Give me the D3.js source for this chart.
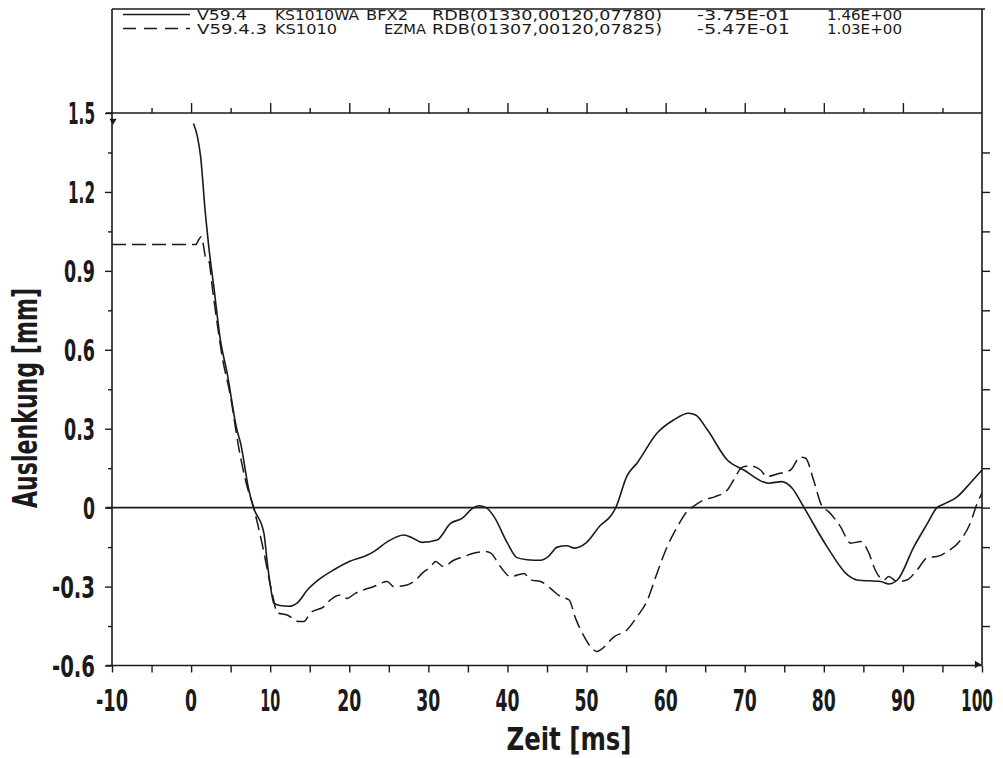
<!DOCTYPE html>
<html><head><meta charset="utf-8">
<script src="https://cdn.jsdelivr.net/npm/d3@7"></script>
<style>body{margin:0;background:#fff}svg{display:block}</style>
</head><body>
<svg id="c" width="1003" height="758"></svg>
<script>
// ---- data ----
const solidT = [0.3,0.8,1.2,1.8,2.24,2.87,3.7,4.56,5.8,6.25,7.3,7.9,9.2,9.6,10.04,10.46,11.2,12.4,13.5,14.7,16.3,18.0,20.0,22.3,23.1,24.8,26.9,28.0,29.2,31.1,32.8,34.3,35.5,36.4,37.3,38.3,40.0,41.2,42.5,44.2,45.2,46.3,47.5,48.5,49.9,51.8,53.0,53.7,55.1,56.4,58.9,61.0,62.9,63.8,65.3,67.8,69.9,73.0,74.7,76.0,77.5,80.4,83.0,84.2,87.2,88.2,89.3,91.4,93.1,94.3,95.2,96.9,98.5,100];
const solidY = [1.46,1.41,1.335,1.12,0.99,0.84,0.638,0.511,0.295,0.246,0.067,0.0,-0.096,-0.2,-0.30,-0.363,-0.372,-0.375,-0.36,-0.313,-0.27,-0.237,-0.205,-0.18,-0.167,-0.13,-0.104,-0.115,-0.132,-0.123,-0.06,-0.04,-0.005,0.007,0.0,-0.034,-0.135,-0.19,-0.198,-0.2,-0.185,-0.15,-0.145,-0.154,-0.135,-0.066,-0.034,0.0,0.12,0.17,0.283,0.333,0.359,0.352,0.295,0.181,0.143,0.093,0.099,0.074,0.0,-0.148,-0.256,-0.275,-0.281,-0.29,-0.275,-0.148,-0.06,0.0,0.014,0.042,0.093,0.143];
const dashT = [-10,0.6,1.0,1.3,1.6,1.8,2.24,2.67,3.3,3.93,5.0,6.0,7.0,7.9,9.0,10.25,10.9,12.15,13.6,14.25,15.1,16.8,17.6,18.9,19.7,20.8,21.8,23.1,24.8,25.6,27.3,28.4,29.2,30.3,30.9,31.9,33.2,34.5,35.7,37.2,37.9,39.1,40.4,42.1,42.9,44.2,45.4,46.7,47.8,48.6,49.7,50.7,51.3,51.8,53.5,55.1,56.4,57.7,58.9,60.2,61.5,62.7,63.6,64.8,66.3,67.8,68.6,69.7,70.7,72.0,72.8,74.1,75.8,77.0,77.7,78.7,79.8,80.6,82.1,83.4,84.7,85.7,86.5,87.6,88.2,89.3,90.5,91.8,93.1,94.3,95.6,97.3,98.5,99.4,100];
const dashY = [1.0,1.0,1.02,1.03,0.99,0.955,0.94,0.84,0.70,0.574,0.42,0.232,0.09,0.0,-0.14,-0.325,-0.40,-0.408,-0.433,-0.433,-0.40,-0.376,-0.351,-0.332,-0.345,-0.325,-0.313,-0.30,-0.281,-0.30,-0.294,-0.275,-0.25,-0.224,-0.205,-0.224,-0.2,-0.186,-0.173,-0.167,-0.173,-0.224,-0.262,-0.25,-0.275,-0.281,-0.306,-0.338,-0.351,-0.42,-0.49,-0.535,-0.547,-0.54,-0.49,-0.465,-0.414,-0.351,-0.25,-0.148,-0.072,-0.015,0.007,0.029,0.042,0.067,0.105,0.154,0.159,0.143,0.118,0.128,0.143,0.192,0.188,0.105,0.004,-0.015,-0.072,-0.135,-0.129,-0.173,-0.237,-0.275,-0.262,-0.281,-0.275,-0.237,-0.19,-0.186,-0.167,-0.123,-0.06,0.017,0.055];
const xTickValues = [-10,0,10,20,30,40,50,60,70,80,90,100];
const xTickLabels = ["-10","0","10","20","30","40","50","60","70","80","90","100"];
const yTickValues = [-0.6,-0.3,0,0.3,0.6,0.9,1.2,1.5];
const yTickLabels = ["-0.6","-0.3","0","0.3","0.6","0.9","1.2","1.5"];
const legendRow1 = ["V59.4","KS1010WA","BFX2","RDB(01330,00120,07780)","-3.75E-01","1.46E+00"];
const legendRow2 = ["V59.4.3","KS1010","EZMA","RDB(01307,00120,07825)","-5.47E-01","1.03E+00"];
const xTitle = "Zeit [ms]";
const yTitle = "Auslenkung [mm]";

// ---- layout ----
const svg = d3.select("#c");
const x = d3.scaleLinear().domain([-10,100]).range([112,982]);
const y = d3.scaleLinear().domain([-0.6,1.5]).range([665.5,113]);
const ink = "#1a1a1a";
const bigFont = "'Liberation Sans Narrow','DejaVu Sans Condensed','Roboto Condensed','Liberation Sans',sans-serif";
const frameTop = 9;

function bigWidth(s){let w=0;for(const c of s){w+= c==='1'?8:c==='.'?7:c==='-'?12:12;}return w;}

// frame lines
const g = svg.append("g").attr("stroke",ink).attr("fill","none").attr("stroke-width",1.6);
g.append("line").attr("x1",x(-10)).attr("x2",x(-10)).attr("y1",frameTop).attr("y2",y(-0.6));
g.append("line").attr("x1",x(100)).attr("x2",x(100)).attr("y1",frameTop).attr("y2",y(-0.6));
g.append("line").attr("x1",x(-10)).attr("x2",x(100)+3).attr("y1",frameTop).attr("y2",frameTop);
[1.5,0,-0.6].forEach(v=>{
  g.append("line").attr("x1",x(-10)-6).attr("x2",x(100)).attr("y1",y(v)).attr("y2",y(v));
});

// axes ticks via d3 axes
const range = (a,b,s)=>d3.range(a,b+s/2,s);
function styleAxis(sel){sel.select(".domain").remove();sel.selectAll("line").attr("stroke",ink).attr("stroke-width",1.4);sel.selectAll("text").remove();}
svg.append("g").attr("transform",`translate(${x(-10)},0)`)
  .call(d3.axisLeft(y).tickValues(range(-0.45,1.35,0.3)).tickSize(4).tickFormat("")).call(styleAxis);
svg.append("g").attr("transform",`translate(${x(-10)},0)`)
  .call(d3.axisLeft(y).tickValues(yTickValues).tickSize(7).tickFormat("")).call(styleAxis);
svg.append("g").attr("transform",`translate(${x(100)},0)`)
  .call(d3.axisRight(y).tickValues(range(-0.45,1.35,0.15)).tickSize(8).tickFormat("")).call(styleAxis);
svg.append("g").attr("transform",`translate(0,${y(-0.6)})`)
  .call(d3.axisBottom(x).tickValues(range(-10,100,5)).tickSize(7).tickFormat("")).call(styleAxis);
svg.append("g").attr("transform",`translate(0,${y(1.5)})`)
  .call(d3.axisTop(x).tickValues(range(-5,95,10)).tickSize(5).tickFormat("")).call(styleAxis);
svg.append("g").attr("transform",`translate(0,${y(1.5)})`)
  .call(d3.axisTop(x).tickValues(range(0,90,10)).tickSize(10).tickFormat("")).call(styleAxis);

// tick labels
const yl = svg.append("g").attr("font-family",bigFont).attr("font-weight","bold").attr("font-size",31).attr("fill",ink);
yTickValues.forEach((v,i)=>{
  yl.append("text").attr("x",95).attr("y",y(v)+11).attr("text-anchor","end")
    .attr("textLength",bigWidth(yTickLabels[i])).attr("lengthAdjust","spacingAndGlyphs").text(yTickLabels[i]);
});
const xl = svg.append("g").attr("font-family",bigFont).attr("font-weight","bold").attr("font-size",31).attr("fill",ink);
xTickValues.forEach((v,i)=>{
  const w = bigWidth(xTickLabels[i]);
  const t = xl.append("text").attr("text-anchor","middle").text(xTickLabels[i]);
  const natural = t.node().getComputedTextLength() || w;
  const k = w / natural;
  const cx = Math.min(x(v), 993 - w/2);
  t.attr("transform",`translate(${cx},711) scale(${k},1)`);
});

// titles
svg.append("text").attr("x",569).attr("y",750).attr("text-anchor","middle")
  .attr("font-family",bigFont).attr("font-weight","bold").attr("font-size",32).attr("fill",ink)
  .attr("textLength",125).attr("lengthAdjust","spacingAndGlyphs").text(xTitle);
svg.append("text").attr("transform","translate(37,398) rotate(-90)").attr("text-anchor","middle")
  .attr("font-family",bigFont).attr("font-weight","bold").attr("font-size",33).attr("fill",ink)
  .attr("textLength",220).attr("lengthAdjust","spacingAndGlyphs").text(yTitle);

// curves
const line = d3.line().x(d=>x(d[0])).y(d=>y(d[1])).curve(d3.curveMonotoneX);
const solid = solidT.map((t,i)=>[t,solidY[i]]);
const dashed = dashT.map((t,i)=>[t,dashY[i]]);
svg.append("path").datum(solid).attr("d",line).attr("fill","none").attr("stroke",ink).attr("stroke-width",1.6);
svg.append("path").datum(dashed).attr("d",line).attr("fill","none").attr("stroke",ink).attr("stroke-width",1.5)
  .attr("stroke-dasharray","14,6");

// small markers
svg.append("path").attr("d",d3.symbol(d3.symbolTriangle,22)()).attr("fill",ink)
  .attr("transform",`translate(${x(-10)+1},${y(1.47)}) rotate(180)`);
svg.append("path").attr("d",d3.symbol(d3.symbolTriangle,24)()).attr("fill",ink)
  .attr("transform",`translate(${x(100)-5},${y(-0.6)-1}) rotate(90)`);

// legend
const legFont = "'Liberation Sans Narrow','DejaVu Sans Condensed','Liberation Sans',sans-serif";
const colX1 = [197,275,366,432,697,827];
const colX2 = [197,275,384,432,697,827];
const colW1 = [50,84,42,230,93,75];
const colW2 = [70,62,42,230,93,75];
const rows = [legendRow1,legendRow2];
const baselines = [19.5,33.5];
const leg = svg.append("g").attr("font-family",legFont).attr("font-size",14).attr("fill",ink);
rows.forEach((row,r)=>{
  row.forEach((s,c)=>{
    leg.append("text").attr("x",(r===0?colX1:colX2)[c]).attr("y",baselines[r])
      .attr("textLength",(r===0?colW1:colW2)[c]).attr("lengthAdjust","spacingAndGlyphs").text(s);
  });
  svg.append("line").attr("x1",123).attr("x2",190).attr("y1",baselines[r]-5).attr("y2",baselines[r]-5)
    .attr("stroke",ink).attr("stroke-width",1.3).attr("stroke-dasharray",r===0?null:"13,8");
});
</script>
</body></html>
